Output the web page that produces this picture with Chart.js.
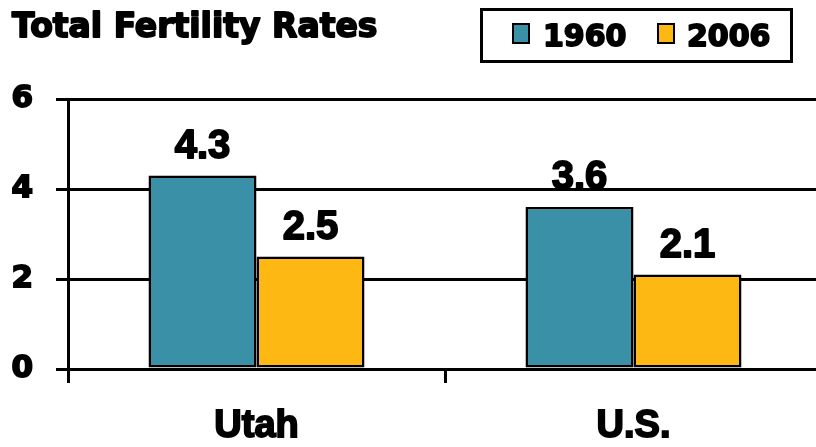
<!DOCTYPE html>
<html>
<head>
<meta charset="utf-8">
<script src="https://cdn.jsdelivr.net/npm/chart.js@4.4.1/dist/chart.umd.min.js"></script>
<style>
html,body{margin:0;padding:0;overflow:hidden;background:#fff;}
#wrap{width:832px;height:447px;position:relative;}
</style>
</head>
<body>
<div id="wrap"><canvas id="c" width="832" height="447"></canvas></div>
<script>
const titleText = 'Total Fertility Rates';
const categories = ['Utah', 'U.S.'];
const seriesLabels = ['1960', '2006'];
const values1960 = [4.3, 3.6];
const values2006 = [2.5, 2.1];
const yTicks = [0, 2, 4, 6];
const colors = ['#3A90A7', '#FDB813'];

const HEAVY = '"DejaVu Sans", Verdana, sans-serif';
const ARIAL = '"Liberation Sans", Arial, sans-serif';

const overlay = {
  id: 'overlay',
  afterDatasetsDraw(chart) {
    const ctx = chart.ctx;
    ctx.save();
    ctx.font = 'bold 40px ' + ARIAL;
    ctx.textAlign = 'center';
    ctx.textBaseline = 'alphabetic';
    ctx.fillStyle = '#000';
    ctx.strokeStyle = '#000';
    ctx.lineWidth = 1.8;
    ctx.lineJoin = 'round';
    chart.data.datasets.forEach((ds, di) => {
      const meta = chart.getDatasetMeta(di);
      meta.data.forEach((bar, i) => {
        const t = ds.data[i].toFixed(1);
        ctx.fillText(t, bar.x, bar.y - 18);
        ctx.strokeText(t, bar.x, bar.y - 18);
      });
    });
    ctx.restore();
  },
  afterDraw(chart) {
    const ctx = chart.ctx;
    ctx.save();
    ctx.lineJoin = 'round';
    // title
    ctx.font = 'bold 33px ' + HEAVY;
    ctx.fillStyle = '#000';
    ctx.strokeStyle = '#000';
    ctx.lineWidth = 1.8;
    ctx.textAlign = 'left';
    ctx.textBaseline = 'alphabetic';
    ctx.fillText(titleText, 12, 37);
    ctx.strokeText(titleText, 12, 37);
    // legend box
    ctx.lineJoin = 'miter';
    ctx.lineWidth = 3;
    ctx.strokeRect(481.5, 9.5, 310, 52);
    const sw = [513, 658];
    const tx = [543, 687];
    ctx.font = 'bold 30px ' + HEAVY;
    chart.data.datasets.forEach((ds, i) => {
      ctx.fillStyle = ds.backgroundColor;
      ctx.fillRect(sw[i], 24, 16, 19);
      ctx.lineWidth = 2;
      ctx.strokeStyle = '#000';
      ctx.strokeRect(sw[i], 24, 16, 19);
      ctx.fillStyle = '#000';
      ctx.lineWidth = 1.8;
      ctx.lineJoin = 'round';
      ctx.fillText(ds.label, tx[i], 46);
      ctx.strokeText(ds.label, tx[i], 46);
      ctx.lineJoin = 'miter';
    });
    ctx.restore();
  }
};

new Chart(document.getElementById('c'), {
  type: 'bar',
  data: {
    labels: categories,
    datasets: [
      { label: seriesLabels[0], data: values1960, backgroundColor: colors[0], borderColor: '#000', borderWidth: 2.5, borderSkipped: false },
      { label: seriesLabels[1], data: values2006, backgroundColor: colors[1], borderColor: '#000', borderWidth: 2.5, borderSkipped: false }
    ]
  },
  options: {
    responsive: false,
    animation: false,
    events: [],
    layout: { padding: { top: 99, right: 10, left: 0, bottom: 0 } },
    datasets: { bar: { categoryPercentage: 0.573, barPercentage: 1.0 } },
    plugins: { legend: { display: false }, title: { display: false }, tooltip: { enabled: false } },
    scales: {
      x: {
        afterFit(s) { s.height = 78; },
        grid: { offset: true, drawOnChartArea: false, drawTicks: true, tickLength: 14, color: '#000', lineWidth: 3 },
        border: { display: true, color: '#000', width: 3 },
        ticks: { color: '#000', font: { family: ARIAL, size: 38, weight: 'bold' }, padding: 21, textStrokeColor: '#000', textStrokeWidth: 1.8 }
      },
      y: {
        min: 0, max: 6,
        afterFit(s) { s.width = 68; },
        afterBuildTicks(s) { s.ticks = yTicks.map(v => ({ value: v })); },
        grid: { color: '#000', lineWidth: 3, tickLength: 12, drawTicks: true },
        border: { display: true, color: '#000', width: 3 },
        ticks: { color: '#000', font: { family: HEAVY, size: 31, weight: 'bold' }, padding: 23, textStrokeColor: '#000', textStrokeWidth: 1.8 }
      }
    }
  },
  plugins: [overlay]
});
</script>
</body>
</html>
